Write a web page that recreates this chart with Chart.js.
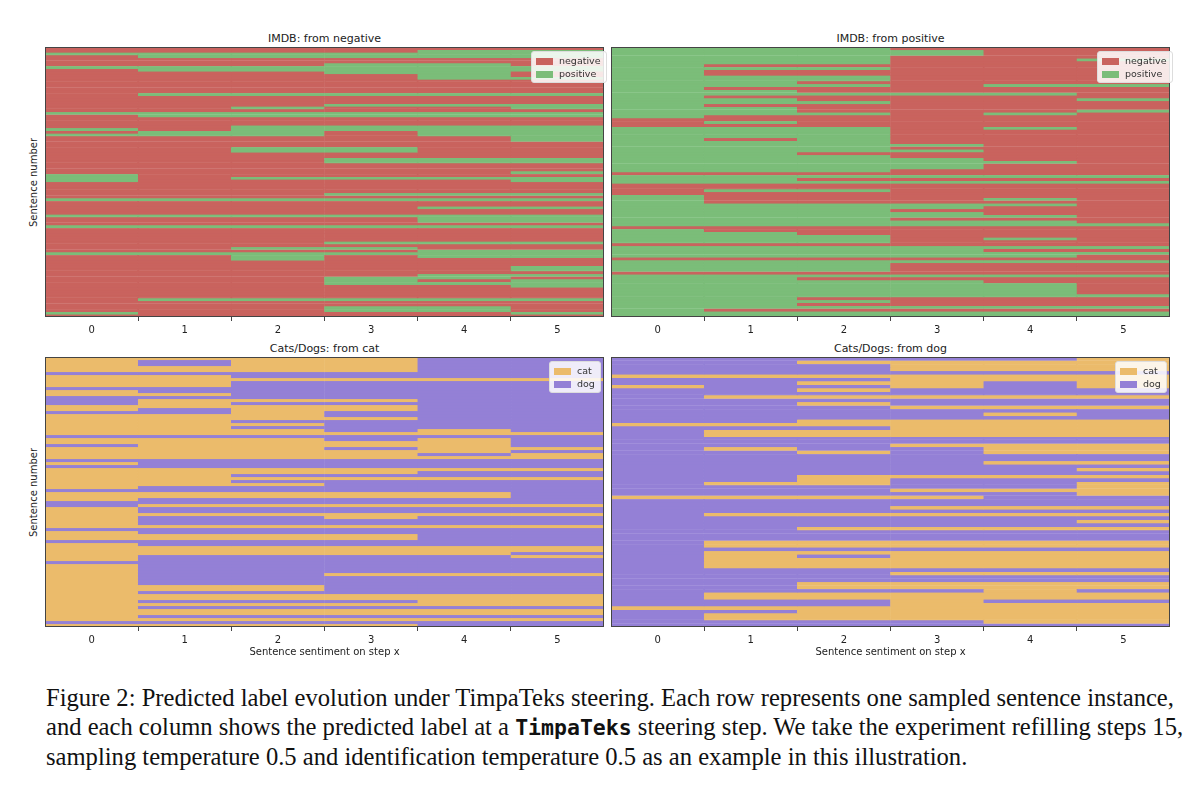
<!DOCTYPE html>
<html>
<head>
<meta charset="utf-8">
<script src="https://cdn.jsdelivr.net/npm/chart.js@4"></script>
<style>
  body { margin: 0; background: #fff; width: 1200px; height: 798px; position: relative; overflow: hidden; font-family: "DejaVu Sans", sans-serif; }
  .plot { position: absolute; width: 559px; height: 292px; }
  .ttl { position: absolute; font-size: 11px; color: #222; text-align: center; width: 559px; }
  .xt { position: absolute; font-size: 10px; color: #222; text-align: center; width: 559px; }
  .yt { position: absolute; font-size: 10px; color: #222; transform: rotate(-90deg); transform-origin: center; width: 200px; text-align: center; }
  .leg { position: absolute; background: rgba(255,255,255,0.85); border: 1px solid #ddd; border-radius: 3px; font-size: 9.5px; color: #333; padding: 2px 5px 2px 4px; line-height: 13px; }
  .leg span { display: inline-block; width: 17px; height: 7px; margin-right: 6px; vertical-align: -0.5px; }
  .cap { position: absolute; left: 46px; top: 683px; font-family: "Liberation Serif", serif; font-size: 24.6px; line-height: 29px; color: #111; white-space: nowrap; }
  .cap b { font-family: "DejaVu Sans Mono", monospace; font-size: 21.5px; }
</style>
</head>
<body>
<script>
// column labels (steering steps)
const steps = ["0", "1", "2", "3", "4", "5"];

// each row = one sentence, one char per step: 0 = first class, 1 = second class
const imdbFromNeg = [
  "000000","000011","111111","011111","000000","000000","000110","111111","011111","000110",
  "000010","000011","000000","000000","000000","000000","000000","011111","000000","000000",
  "000000","000111","001001","000000","111111","011111","000000","000000","000000","001111",
  "101111","011011","111011","000001","000001","000000","000000","001100","001100","000000",
  "000000","000111","000111","000000","000000","000000","000001","100000","101111","100001",
  "000000","000000","000000","000000","000111","000000","111111","000000","000000","000011",
  "000000","000000","111111","000011","000011","000000","111111","000000","000000","000000",
  "000000","000000","000111","000000","001100","000011","111111","001011","001000","000000",
  "000000","000001","000001","000000","000011","000110","000101","000111","000001","000000",
  "000000","000000","000000","011111","000000","000000","000110","000110","100001","000000"
];
const imdbFromPos = [
  "111000","111100","111100","111000","111001","111000","100000","111000","100000","100000",
  "111000","111000","110000","111011","100000","110000","111110","100000","110001","111000",
  "100000","110000","110001","111010","100000","000000","010000","000000","111010","111000",
  "111000","111000","101000","111000","111100","111000","111100","110000","111000","111100",
  "111110","111100","111100","111000","000000","111111","110000","111111","000000","000000",
  "011000","000000","100000","100010","100000","111110","111100","111000","111100","111110",
  "111000","111110","111111","000000","100000","110000","111000","111010","111000","000000",
  "111111","111100","111111","111110","000000","111111","111000","111000","111000","000000",
  "111111","110000","111100","111110","111110","111110","111110","111111","110000","111000",
  "110000","111111","100000","111111","111111"
];
const catsFromCat = [
  "000011","010011","010011","000011","000011","111111","001111","000000","001111","001111",
  "111111","011111","001111","111111","100011","101111","000011","010011","110111","000111",
  "000011","001111","000111","001111","000101","000000","111111","000101","000001","100001",
  "000100","000001","000010","000000","111111","011111","111111","000000","000011","001111",
  "000000","001111","000111","011111","111111","000001","000001","011111","111111","100000",
  "011111","011111","000000","011011","011111","011111","000000","111111","011111","000011",
  "000011","111111","011111","000000","000000","000001","011110","011111","111111","011111",
  "011111","011111","011000","011111","011111","011111","000111","000111","011111","000000",
  "000000","011100","000000","011111","000000","000000","011111","000000","111111","000011"
];
const catsFromDog = [
  "111110","110000","111000","111000","111111","000000","111000","110010","011010","110111",
  "111111","100000","111111","110111","111000","111111","111101","111111","110000","000000",
  "111000","100000","100000","111111","111111","111000","101100","110100","111111","111111",
  "111100","111111","111110","111111","110000","110111","100110","111110","111000","111110",
  "000011","111111","111111","111000","111111","100000","111111","111110","111111","110000",
  "111111","111111","111111","100000","100000","111111","100000","101000","100000","100000",
  "100000","111111","111000","111111","111111","110000","110000","111101","100000","100000",
  "111011","111000","000000","110000","100000","100000","111100","111111"
];

const imdbNames = ["negative", "positive"];
const catsNames = ["cat", "dog"];
const imdbColors = ["#c9635e", "#7bbd79"];
const catsColors = ["#ebbb6b", "#9480d6"];

const boxPlugin = {
  id: 'box',
  afterDraw(chart) {
    const a = chart.chartArea, c = chart.ctx;
    c.save();
    c.strokeStyle = '#444';
    c.lineWidth = 1;
    c.strokeRect(a.left + 0.5, a.top + 0.5, a.width - 1, a.height - 1);
    c.restore();
  }
};

function addPanel(rows, colors, names, left, top, title, showX, showY) {
  const div = document.createElement('div');
  div.className = 'plot';
  div.style.left = left + 'px';
  div.style.top = top + 'px';
  const cv = document.createElement('canvas');
  div.appendChild(cv);
  document.body.appendChild(div);

  const t = document.createElement('div');
  t.className = 'ttl';
  t.style.left = left + 'px';
  t.style.top = (top - 15) + 'px';
  t.innerText = title;
  document.body.appendChild(t);

  if (showX) {
    const x = document.createElement('div');
    x.className = 'xt';
    x.style.left = left + 'px';
    x.style.top = (top + 289) + 'px';
    x.innerText = 'Sentence sentiment on step x';
    document.body.appendChild(x);
  }
  if (showY) {
    const y = document.createElement('div');
    y.className = 'yt';
    y.style.left = (left - 112) + 'px';
    y.style.top = (top + 130) + 'px';
    y.innerText = 'Sentence number';
    document.body.appendChild(y);
  }

  const leg = document.createElement('div');
  leg.className = 'leg';
  leg.style.left = (left + 486) + 'px';
  leg.style.top = (top + 4) + 'px';
  if (names[0] === 'cat') leg.style.left = (left + 504) + 'px';
  leg.innerHTML = `<span style="background:${colors[0]}"></span>${names[0]}<br><span style="background:${colors[1]}"></span>${names[1]}`;
  document.body.appendChild(leg);

  const datasets = rows.map(r => {
    const cols = r.split('').map(ch => colors[+ch]);
    return {
      data: steps.map(() => 1),
      backgroundColor: cols,
      borderColor: cols,
      borderWidth: 0.6,
      borderSkipped: false,
      barPercentage: 1,
      categoryPercentage: 1,
      stack: 's'
    };
  });

  new Chart(cv, {
    type: 'bar',
    data: { labels: steps, datasets: datasets },
    options: {
      responsive: true,
      maintainAspectRatio: false,
      animation: false,
      layout: { padding: 0 },
      plugins: { legend: { display: false }, tooltip: { enabled: false } },
      scales: {
        x: {
          stacked: true,
          grid: { drawOnChartArea: false, tickLength: 4, color: '#444' },
          border: { display: false },
          ticks: { color: '#222', font: { family: 'DejaVu Sans', size: 10 }, padding: 3 }
        },
        y: {
          stacked: true, display: false, reverse: true, min: 0, max: rows.length
        }
      }
    },
    plugins: [boxPlugin]
  });
}

addPanel(imdbFromNeg, imdbColors, imdbNames, 45, 47, 'IMDB: from negative', false, true);
addPanel(imdbFromPos, imdbColors, imdbNames, 611, 47, 'IMDB: from positive', false, false);
addPanel(catsFromCat, catsColors, catsNames, 45, 357, 'Cats/Dogs: from cat', true, true);
addPanel(catsFromDog, catsColors, catsNames, 611, 357, 'Cats/Dogs: from dog', true, false);
</script>
<div class="cap">Figure 2: Predicted label evolution under TimpaTeks steering. Each row represents one sampled sentence instance,<br>and each column shows the predicted label at a <b>TimpaTeks</b> steering step. We take the experiment refilling steps 15,<br>sampling temperature 0.5 and identification temperature 0.5 as an example in this illustration.</div>
</body>
</html>
